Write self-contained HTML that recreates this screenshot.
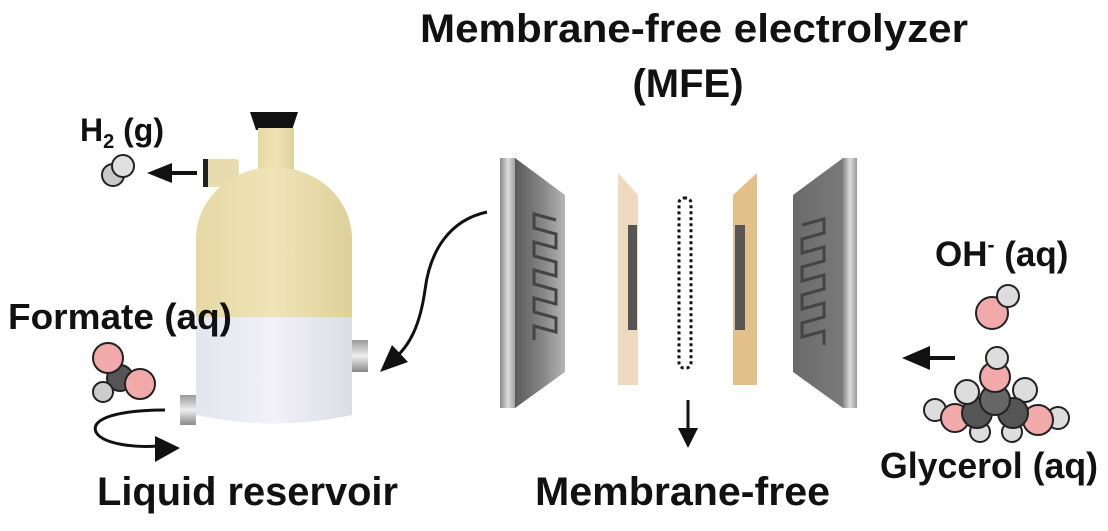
<!DOCTYPE html>
<html><head><meta charset="utf-8"><style>
html,body{margin:0;padding:0;background:#fff;}
svg{display:block;}
text{font-family:"Liberation Sans",sans-serif;font-weight:bold;fill:#111;}
</style></head><body>
<svg width="1108" height="531" viewBox="0 0 1108 531" xmlns="http://www.w3.org/2000/svg">
<defs>
<linearGradient id="yel" x1="0" x2="1" y1="0" y2="0">
<stop offset="0" stop-color="#e6d9a6"/><stop offset="0.5" stop-color="#efe4b6"/><stop offset="1" stop-color="#ddd09a"/></linearGradient>
<linearGradient id="wht" x1="0" x2="1">
<stop offset="0" stop-color="#e4e5ee"/><stop offset="0.5" stop-color="#f1f1f6"/><stop offset="1" stop-color="#dcdde6"/></linearGradient>
<linearGradient id="port" x1="0" x2="0" y1="0" y2="1">
<stop offset="0" stop-color="#999"/><stop offset="0.5" stop-color="#eee"/><stop offset="1" stop-color="#888"/></linearGradient>
<linearGradient id="metal" x1="0" x2="1">
<stop offset="0" stop-color="#5a5a5a"/><stop offset="0.6" stop-color="#8a8a8a"/><stop offset="1" stop-color="#b5b5b5"/></linearGradient>
<linearGradient id="metal2" x1="0" x2="1">
<stop offset="0" stop-color="#6a6a6a"/><stop offset="1" stop-color="#7a7a7a"/></linearGradient>
<linearGradient id="edge" x1="0" x2="1">
<stop offset="0" stop-color="#888"/><stop offset="0.5" stop-color="#ddd"/><stop offset="1" stop-color="#999"/></linearGradient>
</defs>

<!-- Tank -->
<path d="M250,112 L298,112 L292,130 L256,130 Z" fill="#111"/>
<rect x="258" y="128" width="36" height="45" fill="url(#yel)"/>
<rect x="203" y="159" width="36" height="28" rx="4" fill="#e6dcae"/>
<rect x="203" y="159" width="5" height="28" fill="#222"/>
<path d="M196,317 L196,240 C196,195 235,167 274,167 C313,167 352,195 352,240 L352,317 Z" fill="url(#yel)"/>
<path d="M196,317 L352,317 L352,415 Q274,432 196,415 Z" fill="url(#wht)"/>
<rect x="352" y="340" width="16" height="32" fill="url(#port)"/>
<rect x="180" y="395" width="16" height="30" fill="url(#port)"/>

<!-- H2 molecule -->
<circle cx="113" cy="175" r="11" fill="#c9c9c9" stroke="#222" stroke-width="2"/>
<circle cx="123" cy="166" r="11" fill="#e0e0e0" stroke="#222" stroke-width="2"/>
<line x1="197" y1="173" x2="165" y2="173" stroke="#111" stroke-width="4"/>
<path d="M147,173 L172,163 L172,183 Z" fill="#111"/>

<!-- Formate -->
<circle cx="120" cy="378" r="13" fill="#555" stroke="#222" stroke-width="2"/>
<circle cx="108" cy="358" r="15" fill="#f2a9a9" stroke="#222" stroke-width="2"/>
<circle cx="140" cy="384" r="15" fill="#f2a9a9" stroke="#222" stroke-width="2"/>
<circle cx="103" cy="392" r="10" fill="#ccc" stroke="#222" stroke-width="2"/>
<path d="M165,410 C120,410 90,418 96,432 C102,444 135,448 158,446" fill="none" stroke="#111" stroke-width="3"/>
<path d="M180,448 L155,436 L155,462 Z" fill="#111"/>

<!-- curved arrow to tank -->
<path d="M487,212 C450,220 430,250 425,290 C420,325 410,345 395,358" fill="none" stroke="#111" stroke-width="3"/>
<path d="M380,372 L392,345 L408,362 Z" fill="#111"/>

<!-- Left plate -->
<rect x="500" y="158" width="16" height="250" fill="url(#edge)"/>
<path d="M515,158 L565,195 L565,372 L515,408 Z" fill="url(#metal)"/>
<path d="M556,220 L534,214 L534,228 L556,234 L556,248 L534,242 L534,256 L556,262 L556,276 L534,270 L534,284 L556,290 L556,304 L534,298 L534,312 L556,318 L556,332 L534,326 L534,340" fill="none" stroke="#444" stroke-width="3"/>

<!-- tan plates -->
<path d="M618,173 L638,195 L638,385 L618,385 Z" fill="#ecd9be"/>
<rect x="628" y="225" width="9" height="105" fill="#555"/>
<path d="M733,195 L757,173 L757,385 L733,385 Z" fill="#e3bf8a"/>
<rect x="735" y="225" width="10" height="105" fill="#555"/>

<!-- dotted membrane -->
<rect x="679" y="198" width="12" height="170" rx="5" fill="none" stroke="#111" stroke-width="3" stroke-dasharray="3,3"/>

<!-- right plate -->
<path d="M793,195 L843,158 L843,408 L793,372 Z" fill="url(#metal2)"/>
<rect x="843" y="158" width="14" height="250" fill="url(#edge)"/>
<path d="M802,225 L824,219 L824,233 L802,239 L802,253 L824,247 L824,261 L802,267 L802,281 L824,275 L824,289 L802,295 L802,309 L824,303 L824,317 L802,323 L802,337 L824,331 L824,345" fill="none" stroke="#444" stroke-width="3"/>

<!-- down arrow -->
<line x1="688" y1="400" x2="688" y2="430" stroke="#111" stroke-width="3"/>
<path d="M678,428 L698,428 L688,448 Z" fill="#111"/>

<!-- right arrow -->
<line x1="955" y1="358" x2="925" y2="358" stroke="#111" stroke-width="4"/>
<path d="M902,358 L930,346 L930,370 Z" fill="#111"/>

<!-- OH -->
<circle cx="992" cy="313" r="16" fill="#f2a9a9" stroke="#222" stroke-width="2"/>
<circle cx="1008" cy="296" r="11" fill="#ddd" stroke="#222" stroke-width="2"/>

<!-- Glycerol -->
<g stroke="#222" stroke-width="2">
<circle cx="935" cy="410" r="11" fill="#ddd"/>
<circle cx="955" cy="418" r="14" fill="#f2a9a9"/>
<circle cx="1058" cy="418" r="11" fill="#ddd"/>
<circle cx="1038" cy="420" r="15" fill="#f2a9a9"/>
<circle cx="980" cy="432" r="10" fill="#ddd"/>
<circle cx="1012" cy="432" r="10" fill="#ddd"/>
<circle cx="1025" cy="390" r="12" fill="#ddd"/>
<circle cx="977" cy="413" r="15" fill="#555"/>
<circle cx="1013" cy="413" r="15" fill="#555"/>
<circle cx="995" cy="400" r="15" fill="#666"/>
<circle cx="967" cy="392" r="12" fill="#ddd"/>
<circle cx="995" cy="377" r="15" fill="#f2a9a9"/>
<circle cx="997" cy="358" r="11" fill="#ddd"/>
</g>

<!-- Labels (on top) -->
<text x="694" y="42" font-size="40" text-anchor="middle" textLength="548" lengthAdjust="spacingAndGlyphs">Membrane-free electrolyzer</text>
<text x="688" y="97" font-size="40" text-anchor="middle">(MFE)</text>
<text x="80" y="141" font-size="32">H<tspan font-size="20" dy="7">2</tspan><tspan dy="-7"> (g)</tspan></text>
<text x="8" y="329" font-size="36" textLength="224" lengthAdjust="spacingAndGlyphs">Formate (aq)</text>
<text x="97" y="505" font-size="40" textLength="301" lengthAdjust="spacingAndGlyphs">Liquid reservoir</text>
<text x="535" y="505" font-size="40" textLength="295" lengthAdjust="spacingAndGlyphs">Membrane-free</text>
<text x="935" y="266" font-size="35">OH<tspan font-size="21" dy="-14">-</tspan><tspan dy="14"> (aq)</tspan></text>
<text x="880" y="478" font-size="36" textLength="218" lengthAdjust="spacingAndGlyphs">Glycerol (aq)</text>
</svg>
</body></html>
